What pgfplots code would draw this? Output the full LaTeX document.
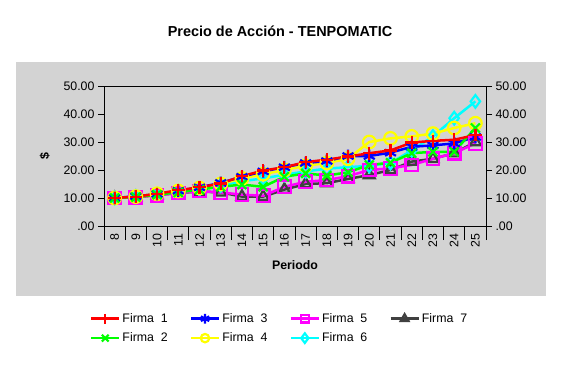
\documentclass[border=0pt]{standalone}
\usepackage{pgfplots}
\pgfplotsset{compat=1.18}
\usepackage{fontspec}
\setmainfont{Liberation Sans}
\definecolor{bg}{RGB}{211,211,211}
\definecolor{fa}{RGB}{255,0,0}
\definecolor{fb}{RGB}{0,255,0}
\definecolor{fc}{RGB}{0,0,255}
\definecolor{fd}{RGB}{255,255,0}
\definecolor{fe}{RGB}{255,0,255}
\definecolor{ff}{RGB}{0,255,255}
\definecolor{fg}{RGB}{64,64,64}
\newcommand{\tfont}{\fontsize{12.4}{14}\selectfont}
\begin{document}
\begin{tikzpicture}[x=1bp,y=1bp]
\path[fill=white] (0,0) rectangle (562,372);
\fill[bg] (16,76) rectangle (546,310);
\node[font=\bfseries\fontsize{14.5}{16}\selectfont] at (280,341) {Precio de Acción - TENPOMATIC};
\begin{axis}[
  at={(104bp,146bp)}, anchor=south west, scale only axis,
  width=382bp, height=140bp,
  xmin=7.5, xmax=25.5, ymin=0, ymax=50,
  /pgf/number format/assume math mode=true,
  axis line style={black, line width=0.8bp},
  xtick={8,...,25},
  minor xtick={7.5,8.5,...,25.5},
  major x tick style={draw=none},
  minor x tick style={black, line width=0.8bp},
  minor tick length=14bp,
  xtick pos=bottom, ytick pos=left,
  tick align=outside,
  major tick length=6bp,
  y tick style={black, line width=0.8bp},
  xticklabel style={rotate=90, anchor=east, font=\tfont, inner sep=1.5bp},
  ytick={0,10,...,50},
  yticklabels={.00,10.00,20.00,30.00,40.00,50.00},
  yticklabel style={font=\tfont},
  xlabel={\textbf{Periodo}},
  xlabel style={at={(axis description cs:0.5,0)}, anchor=center, yshift=-39bp, font=\tfont},
  ylabel={\textbf{\$}},
  ylabel style={at={(axis description cs:-0.155,0.5)}, anchor=center, font=\tfont},
  every axis plot/.append style={line width=2.5bp, mark size=6.3bp, mark options={solid, line width=2.2bp}},
  legend columns=4,
  legend style={at={(axis description cs:-0.045,-0.595)}, anchor=north west, draw=none, fill=none,
    font=\tfont, row sep=5bp, /tikz/every even column/.append style={column sep=20bp}},
  legend cell align=left,
  legend image code/.code={\draw[mark repeat=2,mark phase=2] plot coordinates {(0bp,0bp) (14bp,0bp) (28bp,0bp)};},
]
\addplot[fg, mark=triangle, forget plot] coordinates {(8,10.0)(9,10.3)(10,11.0)(11,11.8)(12,12.3)(13,12.0)(14,10.5)(15,10.5)(16,13.0)(17,15.0)(18,15.3)(19,16.8)(20,18.2)(21,20.0)(22,23.0)(23,24.0)(24,26.0)(25,30.0)};
\addplot[ff, mark=diamond, forget plot] coordinates {(8,10.0)(9,10.5)(10,11.2)(11,12.3)(12,13.2)(13,14.5)(14,16.0)(15,17.0)(16,18.3)(17,19.5)(18,20.5)(19,21.0)(20,21.5)(21,22.5)(22,27.0)(23,32.0)(24,38.5)(25,44.5)};
\addplot[fe, mark=square, forget plot] coordinates {(8,10.0)(9,10.3)(10,11.0)(11,11.8)(12,12.5)(13,12.0)(14,11.2)(15,10.8)(16,14.0)(17,15.8)(18,16.4)(19,17.8)(20,20.0)(21,20.6)(22,21.8)(23,24.0)(24,26.0)(25,29.5)};
\addplot[fd, mark=o, forget plot] coordinates {(8,10.0)(9,10.5)(10,11.5)(11,12.5)(12,13.6)(13,15.0)(14,17.0)(15,18.5)(16,20.0)(17,21.5)(18,22.5)(19,24.0)(20,30.0)(21,31.3)(22,32.0)(23,33.0)(24,35.0)(25,36.7)};
\addplot[fc, mark=asterisk, forget plot] coordinates {(8,10.0)(9,10.6)(10,11.4)(11,12.6)(12,13.8)(13,15.4)(14,17.6)(15,19.5)(16,21.0)(17,22.5)(18,23.2)(19,25.0)(20,25.0)(21,26.2)(22,28.3)(23,28.8)(24,29.5)(25,31.8)};
\addplot[fb, mark=x, forget plot] coordinates {(8,10.0)(9,10.3)(10,11.2)(11,12.0)(12,13.0)(13,14.0)(14,14.8)(15,14.0)(16,17.6)(17,18.8)(18,18.0)(19,19.2)(20,21.8)(21,22.6)(22,26.0)(23,26.5)(24,26.5)(25,35.0)};
\addplot[fa, mark=+, forget plot] coordinates {(8,10.0)(9,10.5)(10,11.5)(11,12.8)(12,13.8)(13,15.2)(14,17.8)(15,19.8)(16,21.0)(17,22.8)(18,23.7)(19,24.8)(20,26.0)(21,27.0)(22,29.8)(23,30.4)(24,30.8)(25,32.5)};
\addlegendimage{fa, mark=+, mark size=4.8bp}
\addlegendentry{Firma\ \ 1}
\addlegendimage{fc, mark=asterisk, mark size=4.8bp}
\addlegendentry{Firma\ \ 3}
\addlegendimage{fe, mark=square, mark size=3.8bp}
\addlegendentry{Firma\ \ 5}
\addlegendimage{fg, mark=triangle, mark size=4.5bp}
\addlegendentry{Firma\ \ 7}
\addlegendimage{fb, mark=x, mark size=4.8bp}
\addlegendentry{Firma\ \ 2}
\addlegendimage{fd, mark=o, mark size=4.2bp}
\addlegendentry{Firma\ \ 4}
\addlegendimage{ff, mark=diamond, mark size=4.8bp}
\addlegendentry{Firma\ \ 6}
\end{axis}
\begin{axis}[
  at={(104bp,146bp)}, anchor=south west, scale only axis,
  width=382bp, height=140bp,
  xmin=7.5, xmax=25.5, ymin=0, ymax=50,
  hide x axis,
  axis y line*=right,
  axis line style={black, line width=0.8bp},
  tick align=outside, major tick length=6bp,
  y tick style={black, line width=0.8bp},
  ytick={0,10,...,50},
  yticklabels={.00,10.00,20.00,30.00,40.00,50.00},
  yticklabel style={font=\tfont},
]
\end{axis}
\end{tikzpicture}
\end{document}
